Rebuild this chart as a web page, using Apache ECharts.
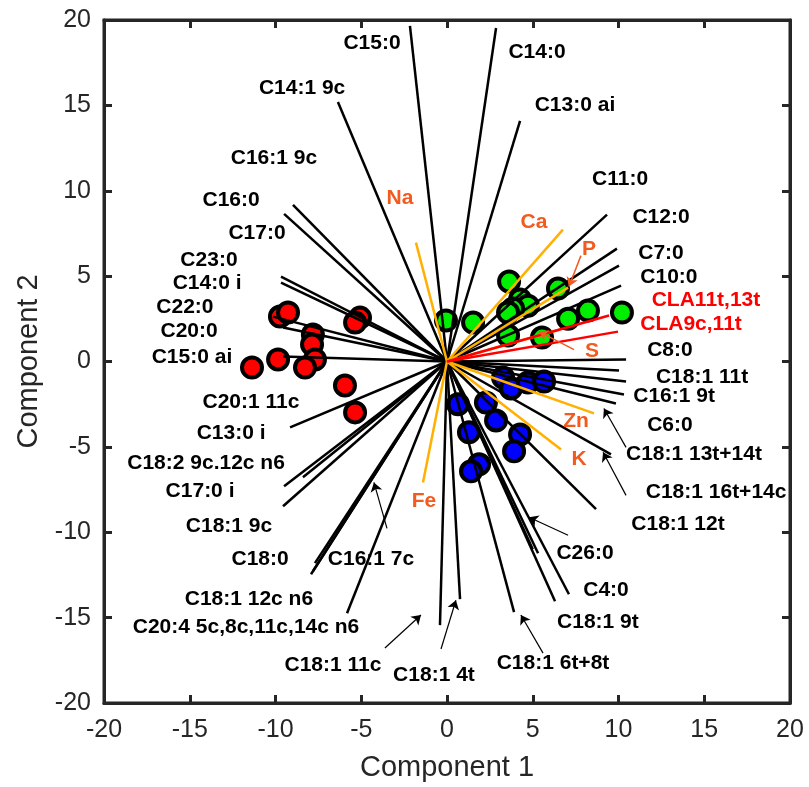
<!DOCTYPE html>
<html>
<head>
<meta charset="utf-8">
<script src="https://cdn.jsdelivr.net/npm/echarts@6/dist/echarts.min.js"></script>
<style>
html, body { margin: 0; padding: 0; background: #fff; }
#chart { width: 809px; height: 787px; }
</style>
</head>
<body>
<div id="chart"></div>
<script>
"use strict";

// sample scores [component 1, component 2]
var redScores = [
    [-9.74, 2.63], [-9.27, 2.87], [-5.07, 2.57], [-5.36, 2.28], [-7.82, 1.58], [-7.87, 0.99],
    [-7.70, 0.12], [-8.28, -0.35], [-9.85, 0.12], [-11.37, -0.35], [-5.95, -1.40], [-5.36, -2.98]
];
var greenScores = [
    [-0.06, 2.40], [1.52, 2.28], [3.62, 4.68], [6.47, 4.27], [4.26, 3.63], [4.72, 3.27], [3.85, 3.10],
    [3.56, 2.87], [7.06, 2.51], [8.22, 2.98], [10.20, 2.87], [3.56, 1.52], [5.54, 1.40]
];
var blueScores = [
    [0.64, -2.51], [2.27, -2.40], [2.86, -3.45], [1.28, -4.15], [4.26, -4.27], [3.91, -5.26],
    [1.87, -6.02], [1.40, -6.43], [3.27, -0.94], [3.73, -1.58], [4.72, -1.23], [5.66, -1.17]
];

// loading vectors (end points, all start at origin)
var fattyAcidLoadings = [
    [-2.16, 19.65], [2.86, 19.53], [-6.36, 15.20], [4.26, 14.09], [-8.98, 9.18], [-9.50, 8.65],
    [9.33, 8.60], [9.91, 6.61], [10.03, 5.61], [10.15, 4.44],
    [10.44, 0.12], [10.03, -0.53], [10.44, -1.17], [10.32, -1.93], [9.85, -2.46], [9.56, -5.44],
    [8.69, -8.65], [5.31, -11.23], [5.00, -11.00], [7.11, -13.63], [6.30, -14.04], [3.91, -14.68],
    [0.76, -13.92], [-0.41, -15.44], [-5.83, -14.74], [-7.93, -12.46], [-7.81, -12.28], [-7.70, -11.81],
    [-9.56, -8.48], [-8.40, -6.78], [-9.50, -7.31], [-9.15, -3.86],
    [-9.56, 0.29], [-10.15, 2.63], [-9.56, 1.99], [-9.68, 4.97], [-9.68, 4.62]
];
var claLoadings = [[9.45, 2.69], [9.97, 1.75]];
var mineralLoadings = [
    [-1.81, 6.96], [6.76, 7.72], [7.06, 4.33], [6.59, 1.87], [8.57, -3.04], [6.65, -5.15], [-1.40, -7.08]
];

// pointer arrows [tail, head]
var labelArrows = [
    [[-3.50, -9.77], [-4.26, -7.08]],
    [[-3.62, -16.78], [-1.52, -14.85]],
    [[-0.35, -16.84], [0.52, -13.98]],
    [[5.60, -17.08], [4.31, -14.85]],
    [[7.06, -10.18], [4.78, -9.12]],
    [[10.44, -7.84], [9.10, -5.32]],
    [[10.44, -5.03], [9.15, -2.75]]
];
var mineralArrows = [
    [[7.81, 6.20], [7.11, 4.39]],
    [[7.41, 0.70], [5.36, 1.75]]
];

// text labels [name, x, y]
var fattyAcidNames = [
    ["C15:0", -4.37, 18.65], ["C14:0", 5.25, 18.13], ["C14:1 9c", -8.45, 16.02], ["C13:0 ai", 7.46, 15.03],
    ["C16:1 9c", -10.09, 11.93], ["C11:0", 10.09, 10.70], ["C16:0", -12.59, 9.47], ["C12:0", 12.48, 8.48],
    ["C17:0", -11.08, 7.49], ["C7:0", 12.48, 6.37], ["C23:0", -13.88, 5.96], ["C14:0 i", -13.99, 4.56],
    ["C10:0", 12.94, 4.91], ["C22:0", -15.28, 3.16], ["C20:0", -15.04, 1.75], ["C8:0", 13.0, 0.64],
    ["C15:0 ai", -14.87, 0.23], ["C18:1 11t", 14.87, -0.94], ["C16:1 9t", 13.24, -2.05],
    ["C20:1 11c", -11.43, -2.40], ["C6:0", 13.0, -3.74], ["C13:0 i", -12.59, -4.21],
    ["C18:1 13t+14t", 14.40, -5.44], ["C18:2 9c.12c n6", -14.05, -5.96], ["C17:0 i", -14.40, -7.60],
    ["C18:1 16t+14c", 15.69, -7.66], ["C18:1 9c", -12.71, -9.65], ["C18:1 12t", 13.47, -9.53],
    ["C18:0", -10.90, -11.58], ["C16:1 7c", -4.43, -11.58], ["C26:0", 8.05, -11.23], ["C4:0", 9.27, -13.39],
    ["C18:1 12c n6", -11.55, -13.92], ["C18:1 9t", 8.80, -15.26], ["C20:4 5c,8c,11c,14c n6", -11.72, -15.56],
    ["C18:1 11c", -6.65, -17.78], ["C18:1 6t+8t", 6.18, -17.66], ["C18:1 4t", -0.76, -18.36]
];
var claNames = [["CLA11t,13t", 15.10, 3.57], ["CLA9c,11t", 14.23, 2.16]];
var mineralNames = [
    ["Na", -2.74, 9.59], ["Ca", 5.07, 8.13], ["P", 8.28, 6.55], ["S", 8.45, 0.58],
    ["Zn", 7.52, -3.51], ["K", 7.70, -5.73], ["Fe", -1.34, -8.19]
];

var chart = echarts.init(document.getElementById("chart"));

var axisColor = "#262626";
var fontFamily = "Arial, 'Liberation Sans', sans-serif";

function vectors(list) {
    return list.map(p => ({ coords: [[0, 0], p] }));
}
function arrows(list) {
    return list.map(a => ({ coords: [a[0], a[1]] }));
}
function texts(list) {
    return list.map(t => ({ name: t[0], value: [t[1], t[2]] }));
}
function scoreSeries(data, color) {
    return {
        type: "scatter",
        data: data,
        symbol: "circle",
        symbolSize: 20,
        z: 2,
        itemStyle: { color: color, borderColor: "#000", borderWidth: 4, opacity: 1 }
    };
}
function lineSeries(data, color, width, arrow) {
    return {
        type: "lines",
        coordinateSystem: "cartesian2d",
        data: data,
        z: arrow ? 5 : 3,
        symbol: arrow ? ["none", "arrow"] : ["none", "none"],
        symbolSize: arrow ? 9 : 0,
        lineStyle: { color: color, width: width, opacity: 1, curveness: 0 },
        silent: true
    };
}
function labelSeries(data, color) {
    return {
        type: "scatter",
        data: data,
        symbolSize: 0,
        z: 6,
        silent: true,
        itemStyle: { opacity: 1 },
        label: {
            show: true,
            position: "inside",
            formatter: "{b}",
            color: color,
            opacity: 1,
            fontSize: 21,
            fontWeight: "bold",
            fontFamily: fontFamily
        }
    };
}

var axisCommon = {
    type: "value",
    min: -20,
    max: 20,
    interval: 5,
    splitLine: { show: false },
    axisLine: { show: true, onZero: false, lineStyle: { color: axisColor, width: 3 } },
    axisTick: { show: true, inside: true, length: 8, lineStyle: { color: axisColor, width: 3 } }
};

var option = {
    backgroundColor: "#fff",
    animation: false,
    grid: { left: 104, right: 19, top: 20, bottom: 83, show: true, borderColor: axisColor, borderWidth: 3 },
    xAxis: [
        Object.assign({}, axisCommon, {
            position: "bottom",
            name: "Component 1",
            nameLocation: "middle",
            nameGap: 50,
            nameTextStyle: { color: axisColor, fontSize: 29, fontFamily: fontFamily },
            axisLabel: { color: axisColor, fontSize: 25, margin: 15, fontFamily: fontFamily }
        }),
        Object.assign({}, axisCommon, { position: "top", axisLabel: { show: false } })
    ],
    yAxis: [
        Object.assign({}, axisCommon, {
            position: "left",
            name: "Component 2",
            nameLocation: "middle",
            nameGap: 58,
            nameTextStyle: { color: axisColor, fontSize: 29, fontFamily: fontFamily },
            axisLabel: { color: axisColor, fontSize: 25, margin: 13, fontFamily: fontFamily }
        }),
        Object.assign({}, axisCommon, { position: "right", axisLabel: { show: false } })
    ],
    series: [
        scoreSeries(redScores, "#ff0000"),
        scoreSeries(greenScores, "#00ee00"),
        scoreSeries(blueScores, "#0000ff"),
        lineSeries(vectors(fattyAcidLoadings), "#000", 2.5, false),
        lineSeries(vectors(mineralLoadings), "#ffb000", 2.5, false),
        lineSeries(vectors(claLoadings), "#ff0000", 2.5, false),
        lineSeries(arrows(labelArrows), "#000", 1.2, true),
        lineSeries(arrows(mineralArrows), "#f25a1e", 1.5, true),
        labelSeries(texts(fattyAcidNames), "#000"),
        labelSeries(texts(claNames), "#ff0000"),
        labelSeries(texts(mineralNames), "#f25a1e")
    ]
};

chart.setOption(option);
</script>
</body>
</html>
